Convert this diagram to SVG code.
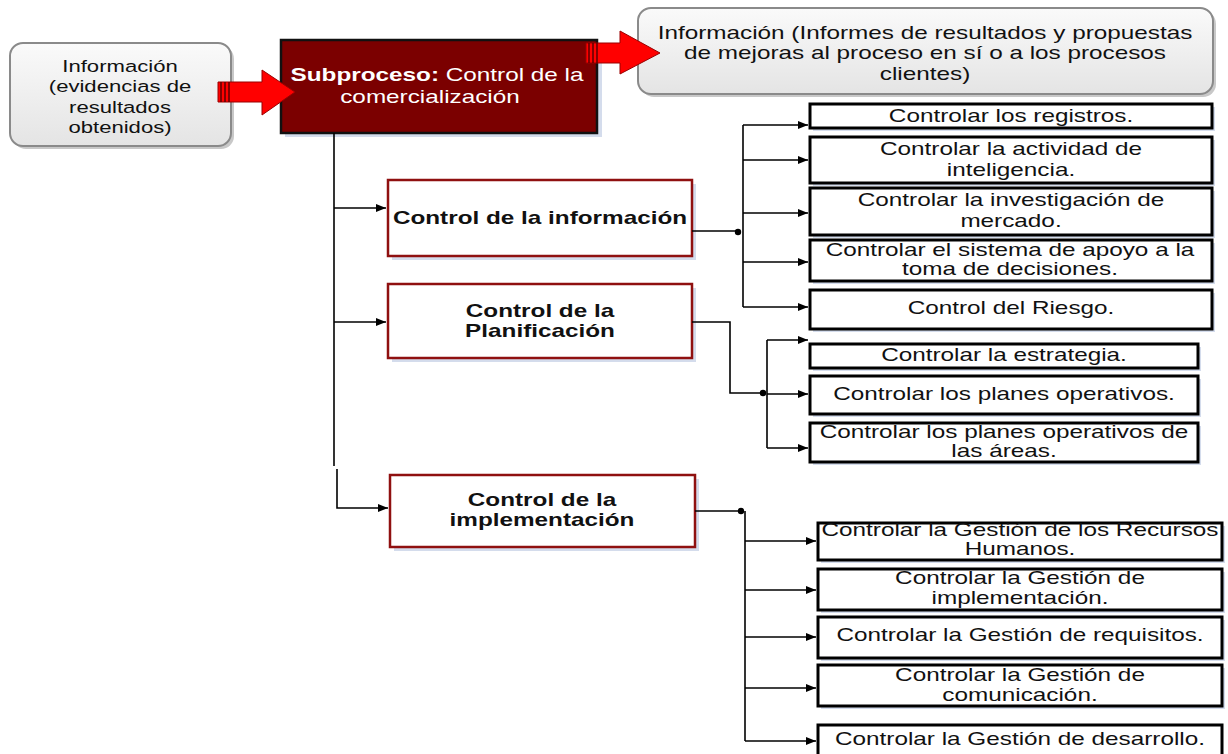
<svg xmlns="http://www.w3.org/2000/svg" width="1228" height="754" viewBox="0 0 1228 754">
<defs>
<linearGradient id="gray" x1="0" y1="0" x2="0" y2="1">
<stop offset="0" stop-color="#fafafa"/>
<stop offset="1" stop-color="#e4e4e4"/>
</linearGradient>
<marker id="ah" viewBox="0 0 10 8" refX="10" refY="4" markerWidth="10" markerHeight="8" markerUnits="userSpaceOnUse" orient="auto">
<path d="M0 0 L10 4 L0 8 Z" fill="#000"/>
</marker>
<style>
text{font-family:"Liberation Sans",Arial,sans-serif;font-size:18px;fill:#111;text-anchor:middle}
.b{font-weight:bold}
.w{fill:#fff}
.soft{fill:#fff;stroke:#000;stroke-width:3}
.red{fill:#fff;stroke:#8f1010;stroke-width:2.5}
.sh{fill:#d4dcec}
.info{fill:url(#gray);stroke:#8a8a8a;stroke-width:2}
.c{fill:none;stroke:#000;stroke-width:1.6}
.a{marker-end:url(#ah)}
.blk{fill:#ff0000;stroke:#900;stroke-width:1}
.strip{stroke:#5a0000;stroke-width:1.5}
</style>
</defs>
<rect width="1228" height="754" fill="#fff"/>

<g id="info-in">
<rect x="13" y="46" width="221" height="103" rx="13" fill="#c8c8c8"/>
<rect x="10" y="43" width="221" height="103" rx="13" class="info"/>
<text transform="translate(120 72) scale(1.3 1)" style="font-size:17px"><tspan x="0" y="0">Información</tspan><tspan x="0" y="20.5">(evidencias de</tspan><tspan x="0" y="41">resultados</tspan><tspan x="0" y="61">obtenidos)</tspan></text>
</g>

<g id="info-out">
<rect x="641" y="11" width="575" height="86" rx="13" fill="#c8c8c8"/>
<rect x="638" y="8" width="575" height="86" rx="13" class="info"/>
<text transform="translate(925 39) scale(1.35 1)"><tspan x="0" y="0">Información (Informes de resultados y propuestas</tspan><tspan x="0" y="20.5">de mejoras al proceso en sí o a los procesos</tspan><tspan x="0" y="41">clientes)</tspan></text>
</g>

<g id="subproceso">
<rect x="285" y="44" width="317" height="93" class="sh"/>
<rect x="281" y="40" width="316" height="93" fill="#7b0000" stroke="#111" stroke-width="2.5"/>
<text transform="translate(437 81) scale(1.35 1)" class="w"><tspan class="b w">Subproceso:</tspan><tspan class="w"> Control de la</tspan></text>
<text transform="translate(430 103) scale(1.35 1)" class="w">comercialización</text>
</g>

<g id="arrow-in">
<polygon points="218,82 262,82 262,70 295,92 262,115 262,102 218,102" class="blk"/>
<line x1="221" y1="82" x2="221" y2="102" class="strip"/>
<line x1="225" y1="82" x2="225" y2="102" class="strip"/>
<line x1="229" y1="82" x2="229" y2="102" class="strip"/>
</g>

<g id="arrow-out">
<polygon points="586,43 620,43 620,31 660,53 620,74 620,63 586,63" class="blk"/>
<line x1="589" y1="43" x2="589" y2="63" class="strip"/>
<line x1="593" y1="43" x2="593" y2="63" class="strip"/>
<line x1="597" y1="43" x2="597" y2="63" class="strip"/>
</g>

<g id="ctrl-info">
<rect x="392" y="184" width="304" height="76" class="sh"/>
<rect x="388" y="180" width="304" height="76" class="red"/>
<text transform="translate(540 224) scale(1.35 1)" class="b">Control de la información</text>
</g>

<g id="ctrl-plan">
<rect x="392" y="288" width="304" height="74" class="sh"/>
<rect x="388" y="284" width="304" height="74" class="red"/>
<text transform="translate(540 317) scale(1.35 1)" class="b"><tspan x="0" y="0">Control de la</tspan><tspan x="0" y="20">Planificación</tspan></text>
</g>

<g id="ctrl-impl">
<rect x="394" y="479" width="305" height="72" class="sh"/>
<rect x="390" y="475" width="305" height="72" class="red"/>
<text transform="translate(542 506) scale(1.35 1)" class="b"><tspan x="0" y="0">Control de la</tspan><tspan x="0" y="20">implementación</tspan></text>
</g>

<g id="registros">
<rect x="813" y="107" width="402" height="24" class="sh"/>
<rect x="810" y="104" width="402" height="24" class="soft"/>
<text transform="translate(1011 122) scale(1.35 1)">Controlar los registros.</text>
</g>
<g id="inteligencia">
<rect x="813" y="140" width="402" height="46" class="sh"/>
<rect x="810" y="137" width="402" height="46" class="soft"/>
<text transform="translate(1011 155) scale(1.35 1)"><tspan x="0" y="0">Controlar la actividad de</tspan><tspan x="0" y="21">inteligencia.</tspan></text>
</g>
<g id="mercado">
<rect x="813" y="191" width="402" height="47" class="sh"/>
<rect x="810" y="188" width="402" height="47" class="soft"/>
<text transform="translate(1011 206) scale(1.35 1)"><tspan x="0" y="0">Controlar la investigación de</tspan><tspan x="0" y="21">mercado.</tspan></text>
</g>
<g id="apoyo">
<rect x="813" y="243" width="402" height="41" class="sh"/>
<rect x="810" y="240" width="402" height="41" class="soft"/>
<text transform="translate(1010 256) scale(1.35 1)"><tspan x="0" y="0">Controlar el sistema de apoyo a la</tspan><tspan x="0" y="19">toma de decisiones.</tspan></text>
</g>
<g id="riesgo">
<rect x="813" y="293" width="402" height="39" class="sh"/>
<rect x="810" y="290" width="402" height="39" class="soft"/>
<text transform="translate(1011 314) scale(1.35 1)">Control del Riesgo.</text>
</g>

<g id="estrategia">
<rect x="813" y="347" width="388" height="24" class="sh"/>
<rect x="810" y="344" width="388" height="24" class="soft"/>
<text transform="translate(1004 361) scale(1.35 1)">Controlar la estrategia.</text>
</g>
<g id="planes">
<rect x="813" y="379" width="388" height="38" class="sh"/>
<rect x="810" y="376" width="388" height="38" class="soft"/>
<text transform="translate(1004 400) scale(1.35 1)">Controlar los planes operativos.</text>
</g>
<g id="planes-areas">
<rect x="813" y="426" width="388" height="39" class="sh"/>
<rect x="810" y="423" width="388" height="39" class="soft"/>
<text transform="translate(1004 438) scale(1.35 1)"><tspan x="0" y="0">Controlar los planes operativos de</tspan><tspan x="0" y="19">las áreas.</tspan></text>
</g>

<g id="rrhh">
<rect x="821" y="526" width="404" height="37" class="sh"/>
<rect x="818" y="523" width="404" height="37" class="soft"/>
<text transform="translate(1020 536) scale(1.35 1)"><tspan x="0" y="0">Controlar la Gestión de los Recursos</tspan><tspan x="0" y="19">Humanos.</tspan></text>
</g>
<g id="gimpl">
<rect x="821" y="572" width="404" height="41" class="sh"/>
<rect x="818" y="569" width="404" height="41" class="soft"/>
<text transform="translate(1020 584) scale(1.35 1)"><tspan x="0" y="0">Controlar la Gestión de</tspan><tspan x="0" y="20">implementación.</tspan></text>
</g>
<g id="requisitos">
<rect x="821" y="620" width="404" height="41" class="sh"/>
<rect x="818" y="617" width="404" height="41" class="soft"/>
<text transform="translate(1020 641) scale(1.35 1)">Controlar la Gestión de requisitos.</text>
</g>
<g id="comunicacion">
<rect x="821" y="668" width="404" height="41" class="sh"/>
<rect x="818" y="665" width="404" height="41" class="soft"/>
<text transform="translate(1020 681) scale(1.35 1)"><tspan x="0" y="0">Controlar la Gestión de</tspan><tspan x="0" y="20">comunicación.</tspan></text>
</g>
<g id="desarrollo">
<rect x="818" y="725" width="404" height="32" class="soft"/>
<text transform="translate(1020 745) scale(1.35 1)">Controlar la Gestión de desarrollo.</text>
</g>

<g id="connectors">
<path d="M334 133 V466" class="c"/>
<path d="M337 469 V508 H388" class="c a"/>
<path d="M334 208 H386" class="c a"/>
<path d="M334 322 H386" class="c a"/>

<path d="M692 231 H738" class="c"/>
<circle cx="738" cy="232" r="3.2"/>
<path d="M743 125 V307" class="c"/>
<path d="M743 125 H808" class="c a"/>
<path d="M743 160 H808" class="c a"/>
<path d="M743 213 H808" class="c a"/>
<path d="M743 262 H808" class="c a"/>
<path d="M743 307 H808" class="c a"/>

<path d="M692 322 H730 V393 H763" class="c"/>
<circle cx="763" cy="393" r="3.2"/>
<path d="M767 340 V448" class="c"/>
<path d="M767 340 H808" class="c a"/>
<path d="M767 394 H808" class="c a"/>
<path d="M767 448 H808" class="c a"/>

<path d="M695 511 H741" class="c"/>
<circle cx="741" cy="511" r="3.2"/>
<path d="M745 511 V741" class="c"/>
<path d="M745 541 H816" class="c a"/>
<path d="M745 590 H816" class="c a"/>
<path d="M745 637 H816" class="c a"/>
<path d="M745 688 H816" class="c a"/>
<path d="M745 741 H816" class="c a"/>
</g>
</svg>
